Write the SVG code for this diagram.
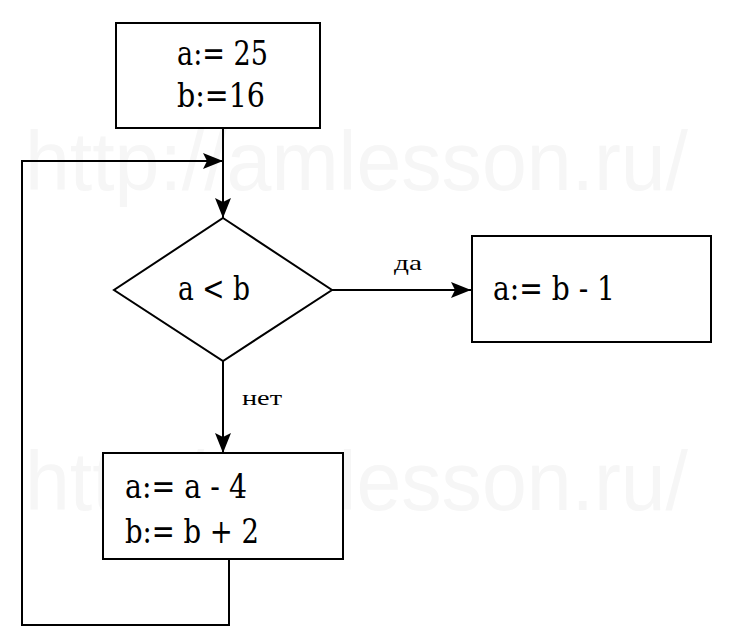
<svg xmlns="http://www.w3.org/2000/svg" width="732" height="643" viewBox="0 0 732 643">
<style>
.box{fill:#fff;stroke:#000;stroke-width:2}
.ln{fill:none;stroke:#000;stroke-width:2}
.t{font-family:"DejaVu Serif","Liberation Serif",serif;font-size:33px;fill:#000}
.s{font-family:"Liberation Serif","DejaVu Serif",serif;font-size:22px;fill:#000}
.wm{font-family:"Liberation Sans",Arial,sans-serif;font-size:84px;fill:#f6f6f6}
</style>
<defs>
<marker id="ah" markerWidth="20" markerHeight="16" refX="20" refY="8" orient="auto" markerUnits="userSpaceOnUse">
<path d="M0,0 L20,8 L0,16 L4,8 z" fill="#000"/>
</marker>
</defs>
<rect width="732" height="643" fill="#fff"/>
<g id="watermark">
<text class="wm" x="25" y="190" textLength="663" lengthAdjust="spacingAndGlyphs">http://amlesson.ru/</text>
<text class="wm" x="25" y="510" textLength="663" lengthAdjust="spacingAndGlyphs">http://amlesson.ru/</text>
</g>
<g id="connectors">
<line class="ln" x1="223" y1="128" x2="223" y2="218" marker-end="url(#ah)"/>
<line class="ln" x1="332" y1="290" x2="471" y2="290" marker-end="url(#ah)"/>
<line class="ln" x1="223" y1="361" x2="223" y2="453" marker-end="url(#ah)"/>
<polyline class="ln" points="229,559 229,625 22,625 22,161 223,161" marker-end="url(#ah)"/>
<text class="s" x="394" y="270" textLength="28" lengthAdjust="spacingAndGlyphs">да</text>
<text class="s" x="242" y="405" textLength="40" lengthAdjust="spacingAndGlyphs">нет</text>
</g>
<g id="init">
<rect class="box" x="116" y="23" width="204" height="105"/>
<text class="t" x="177" y="65" textLength="91" lengthAdjust="spacingAndGlyphs">a:= 25</text>
<text class="t" x="177" y="107" textLength="88" lengthAdjust="spacingAndGlyphs">b:=16</text>
</g>
<g id="cond">
<polygon class="box" points="223,218 332,290 223,361 114,290"/>
<text class="t" x="178" y="300" textLength="72" lengthAdjust="spacingAndGlyphs">a &lt; b</text>
</g>
<g id="yes">
<rect class="box" x="472" y="236" width="239" height="106"/>
<text class="t" x="493" y="300" textLength="122" lengthAdjust="spacingAndGlyphs">a:= b - 1</text>
</g>
<g id="no">
<rect class="box" x="103" y="453" width="240" height="106"/>
<text class="t" x="125" y="498" textLength="122" lengthAdjust="spacingAndGlyphs">a:= a - 4</text>
<text class="t" x="125" y="543" textLength="134" lengthAdjust="spacingAndGlyphs">b:= b + 2</text>
</g>
</svg>
